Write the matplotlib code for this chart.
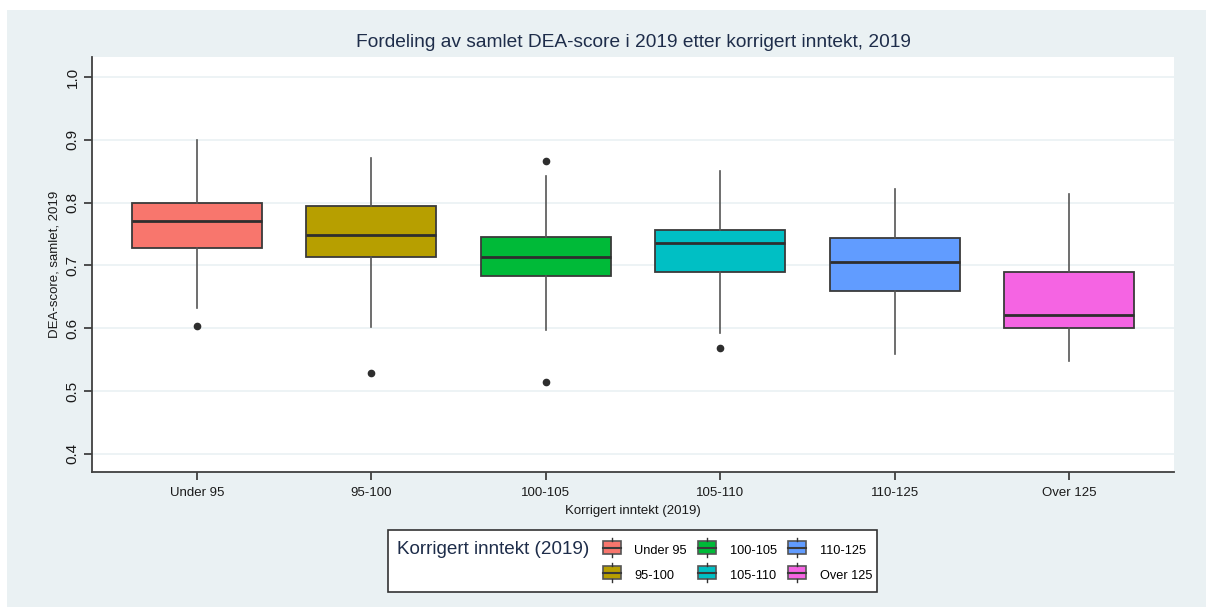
import matplotlib
matplotlib.use("Agg")
import matplotlib.pyplot as plt
import matplotlib.patches as mpatches
from matplotlib.lines import Line2D
from matplotlib.legend_handler import HandlerBase

plt.rcParams['font.family'] = ['Liberation Sans', 'DejaVu Sans']

groups = ['Under 95', '95-100', '100-105', '105-110', '110-125', 'Over 125']
colors = ['#F8766D', '#B79F00', '#00BA38', '#00BFC4', '#619CFF', '#F564E3']
whislo = [0.632, 0.602, 0.597, 0.592, 0.559, 0.548]
q1 = [0.727, 0.714, 0.683, 0.689, 0.660, 0.600]
med = [0.771, 0.749, 0.713, 0.735, 0.706, 0.621]
q3 = [0.800, 0.795, 0.745, 0.756, 0.743, 0.689]
whishi = [0.900, 0.871, 0.842, 0.850, 0.821, 0.814]
outliers = [[0.603], [0.529], [0.866, 0.514], [0.568], [], []]

W, H = 1206, 607
bg = '#EAF1F3'
fig = plt.figure(figsize=(W / 100, H / 100), dpi=100, facecolor='white')
fig.patches.append(mpatches.Rectangle((7 / W, 0), 1, 1 - 10 / H, transform=fig.transFigure,
                                      facecolor=bg, edgecolor='none', zorder=-10))
ax = fig.add_axes([92 / W, 1 - 472 / H, (1174 - 92) / W, (472 - 57) / H])
ax.set_facecolor('white')

stats = []
for i in range(len(groups)):
    stats.append(dict(med=med[i], q1=q1[i], q3=q3[i], whislo=whislo[i], whishi=whishi[i],
                      fliers=outliers[i], label=groups[i]))

bp = ax.bxp(stats, positions=range(len(groups)), widths=0.743, patch_artist=True,
            showcaps=False,
            boxprops=dict(edgecolor='#3a3a3a', linewidth=1.3),
            medianprops=dict(color='#2e2e2e', linewidth=2),
            whiskerprops=dict(color='#555555', linewidth=1.2),
            flierprops=dict(marker='o', markerfacecolor='#2e2e2e', markeredgecolor='#2e2e2e',
                            markersize=4.5))
for patch, c in zip(bp['boxes'], colors):
    patch.set_facecolor(c)

ax.set_xlim(-0.6, 5.6)
ax.set_ylim(0.371, 1.032)
ax.set_yticks([0.4, 0.5, 0.6, 0.7, 0.8, 0.9, 1.0])
ax.set_yticklabels(['0.4', '0.5', '0.6', '0.7', '0.8', '0.9', '1.0'], rotation=90, va='center')
ax.set_xticks(range(len(groups)))
ax.set_xticklabels(groups)
ax.yaxis.grid(True, color='#EAF1F3', linewidth=1.2)
ax.set_axisbelow(True)
for s in ['top', 'right']:
    ax.spines[s].set_visible(False)
for s in ['left', 'bottom']:
    ax.spines[s].set_color('#404040')
    ax.spines[s].set_linewidth(1.3)
ax.tick_params(axis='both', colors='#404040', length=6, width=1.3, labelcolor='#1a1a1a')
ax.tick_params(axis='x', labelsize=9.5, pad=5)
ax.tick_params(axis='y', labelsize=11, pad=3)
ax.set_xlabel('Korrigert inntekt (2019)', fontsize=9.5, color='#1a1a1a', labelpad=4)
ax.set_ylabel('DEA-score, samlet, 2019', fontsize=9.5, color='#1a1a1a')
ax.yaxis.set_label_coords(-31 / 1082, 0.5)
ax.set_title('Fordeling av samlet DEA-score i 2019 etter korrigert inntekt, 2019',
             fontsize=13.8, color='#1e2d4a', pad=7)


class BoxHandler(HandlerBase):
    def create_artists(self, legend, orig, xd, yd, w, h, fontsize, trans):
        fc = orig.get_facecolor()
        r = mpatches.Rectangle((xd, yd - 0.1 * h), w, h * 1.2, facecolor=fc,
                               edgecolor='#555555', linewidth=1.2, transform=trans)
        m = Line2D([xd, xd + w], [yd + h / 2, yd + h / 2], color='#3a3a3a', lw=1.5, transform=trans)
        t1 = Line2D([xd + w / 2] * 2, [yd + 1.1 * h, yd + 1.4 * h], color='#333333', lw=1, transform=trans)
        t2 = Line2D([xd + w / 2] * 2, [yd - 0.1 * h, yd - 0.4 * h], color='#333333', lw=1, transform=trans)
        return [r, m, t1, t2]


# legend frame and title drawn by hand, title sits left of the entries
fig.patches.append(mpatches.Rectangle((388 / W, 1 - 592 / H), (877 - 388) / W, (592 - 530) / H,
                                      transform=fig.transFigure, facecolor='white',
                                      edgecolor='#333333', linewidth=1.2, zorder=1))
fig.text(397 / W, 1 - 549 / H, 'Korrigert inntekt (2019)', fontsize=13.6, color='#1e2d4a',
         ha='left', va='center', zorder=2)

handles = [mpatches.Patch(facecolor=c) for c in colors]
leg = fig.legend(handles, groups, handler_map={h: BoxHandler() for h in handles}, ncol=3,
                 loc='center left', bbox_to_anchor=(603 / W, 1 - 563 / H), fontsize=9.2,
                 frameon=False, handlelength=1.4, handleheight=0.9,
                 columnspacing=0.9, handletextpad=1.05, labelspacing=0.95, borderpad=0,
                 borderaxespad=0)
leg.set_zorder(3)

fig.savefig('out.png', dpi=100, facecolor=fig.get_facecolor())
